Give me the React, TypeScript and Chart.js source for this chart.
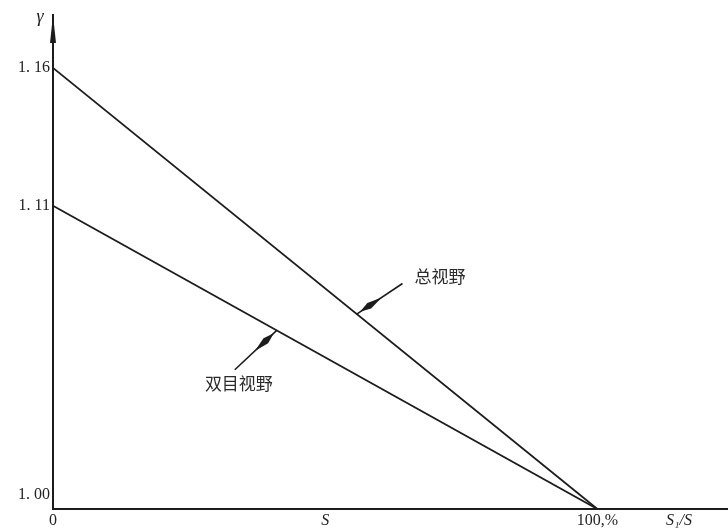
import React, { useEffect, useRef } from "react";
import { Chart, registerables } from "chart.js";

Chart.register(...registerables);

// Ratio S1/S in percent (x) and coefficient γ (y)
const xValues = [0, 100];
const totalFieldValues = [1.16, 1.0]; // 总视野
const binocularValues = [1.11, 1.0]; // 双目视野

const xTicks = [0, 50, 100, 115];
const xTickLabels = ["0", "S", "100,%", "S₁/S"];
const yTicks = [1.0, 1.11, 1.16];
const yTickLabels = ["1. 00", "1. 11", "1. 16"];

const seriesNames = ["总视野", "双目视野"];

// Leader arrows: [tailX, tailY, tipX] in data units; tip sits on the line
const arrowSpecs = [
  { series: 0, tail: [64.2, 1.0818], tipX: 55.8, label: [66.4, 1.0845] },
  { series: 1, tail: [33.4, 1.0505], tipX: 41.1, label: [27.9, 1.0455] },
];

const INK = "#1c1c1c";
const SERIF = "'Liberation Serif', 'DejaVu Serif', serif";
const CJK = "'Noto Sans CJK SC', sans-serif";

function lineValueAt(series: number, x: number) {
  const vals = series === 0 ? totalFieldValues : binocularValues;
  const t = (x - xValues[0]) / (xValues[1] - xValues[0]);
  return vals[0] + (vals[1] - vals[0]) * t;
}

const decorPlugin = {
  id: "decor",
  afterDraw(chart: any) {
    const { ctx, chartArea, scales } = chart;
    const xs = scales.x;
    const ys = scales.y;
    ctx.save();
    // arrow head at the top of the γ axis
    const ax = chartArea.left;
    const at = chartArea.top;
    ctx.fillStyle = INK;
    ctx.beginPath();
    ctx.moveTo(ax, at);
    ctx.lineTo(ax - 3, at + 28);
    ctx.lineTo(ax + 3, at + 28);
    ctx.closePath();
    ctx.fill();
    ctx.font = `italic 18px ${SERIF}`;
    ctx.textAlign = "center";
    ctx.textBaseline = "middle";
    ctx.fillText("γ", ax - 13, at + 2);

    // leader arrows with labels
    for (const a of arrowSpecs) {
      const tx = xs.getPixelForValue(a.tipX);
      const ty = ys.getPixelForValue(lineValueAt(a.series, a.tipX));
      const sx = xs.getPixelForValue(a.tail[0]);
      const sy = ys.getPixelForValue(a.tail[1]);
      const dx = sx - tx;
      const dy = sy - ty;
      const len = Math.hypot(dx, dy);
      const ux = dx / len;
      const uy = dy / len;
      const px = -uy;
      const py = ux;
      ctx.strokeStyle = INK;
      ctx.lineWidth = 1.6;
      ctx.beginPath();
      ctx.moveTo(tx, ty);
      ctx.lineTo(sx, sy);
      ctx.stroke();
      const p = (d: number, w: number) => [tx + ux * d + px * w, ty + uy * d + py * w];
      const pts = [p(4, 0), p(15, 3.4), p(30, 0), p(15, -3.4)];
      ctx.beginPath();
      ctx.moveTo(pts[0][0], pts[0][1]);
      for (let i = 1; i < pts.length; i++) ctx.lineTo(pts[i][0], pts[i][1]);
      ctx.closePath();
      ctx.fill();

      ctx.font = `17px ${CJK}`;
      ctx.fillStyle = "#2a2a2a";
      ctx.textAlign = "left";
      ctx.textBaseline = "middle";
      ctx.fillText(
        seriesNames[a.series],
        xs.getPixelForValue(a.label[0]),
        ys.getPixelForValue(a.label[1])
      );
      ctx.fillStyle = INK;
    }
    ctx.restore();
  },
};

export default function App() {
  const canvasRef = useRef<HTMLCanvasElement | null>(null);

  useEffect(() => {
    const canvas = canvasRef.current;
    if (!canvas) return;
    const chart = new Chart(canvas, {
      type: "line",
      data: {
        datasets: [
          {
            label: seriesNames[0],
            data: xValues.map((x, i) => ({ x, y: totalFieldValues[i] })),
            borderColor: INK,
            borderWidth: 1.8,
            pointRadius: 0,
            fill: false,
          },
          {
            label: seriesNames[1],
            data: xValues.map((x, i) => ({ x, y: binocularValues[i] })),
            borderColor: INK,
            borderWidth: 1.8,
            pointRadius: 0,
            fill: false,
          },
        ],
      },
      options: {
        animation: false,
        responsive: false,
        devicePixelRatio: 1,
        layout: { padding: { top: 15, right: 0, left: 0, bottom: 0 } },
        plugins: {
          legend: { display: false },
          tooltip: { enabled: false },
          title: { display: false },
        },
        scales: {
          x: {
            type: "linear",
            min: 0,
            max: 124,
            grid: { display: false, drawTicks: false },
            border: { display: true, color: INK, width: 2 },
            afterBuildTicks: (scale: any) => {
              scale.ticks = xTicks.map((v) => ({ value: v }));
            },
            afterFit: (scale: any) => {
              scale.height = 19;
              scale.paddingLeft = 0;
              scale.paddingRight = 0;
            },
            ticks: {
              autoSkip: false,
              maxRotation: 0,
              padding: 2,
              color: "#222",
              font: (ctx: any) => {
                const i = ctx.index;
                const italic = i === 1 || i === 3;
                return { family: SERIF, size: 16, style: italic ? "italic" : "normal" };
              },
              callback: (value: any) => {
                const i = xTicks.indexOf(Number(value));
                return i >= 0 ? xTickLabels[i] : "";
              },
            },
          },
          y: {
            type: "linear",
            min: 1.0,
            max: 1.1792,
            grid: { display: false, drawTicks: false },
            border: { display: true, color: INK, width: 2 },
            afterBuildTicks: (scale: any) => {
              scale.ticks = yTicks.map((v) => ({ value: v }));
            },
            afterFit: (scale: any) => {
              scale.width = 53;
              scale.paddingTop = 0;
              scale.paddingBottom = 0;
            },
            ticks: {
              autoSkip: false,
              padding: 3,
              color: "#222",
              font: { family: SERIF, size: 16, lineHeight: 1.8 },
              callback: (value: any) => {
                const i = yTicks.findIndex((t) => Math.abs(t - Number(value)) < 1e-6);
                if (i < 0) return "";
                // the origin label sits just above the horizontal axis
                return i === 0 ? [yTickLabels[i], ""] : yTickLabels[i];
              },
            },
          },
        },
      },
      plugins: [decorPlugin],
    });
    return () => chart.destroy();
  }, []);

  return (
    <div style={{ position: "absolute", left: 0, top: 0, width: 728, height: 528, background: "#fff" }}>
      <canvas ref={canvasRef} width={728} height={528} />
    </div>
  );
}
